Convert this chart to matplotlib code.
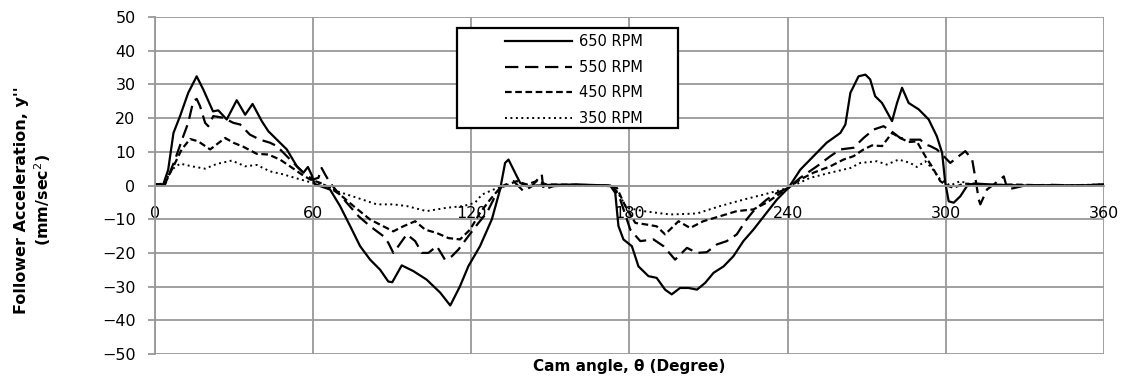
import numpy as np
import matplotlib
matplotlib.use('Agg')
import matplotlib.pyplot as plt
from matplotlib.patches import Rectangle

plt.rcParams['font.family'] = ['DejaVu Sans']

# cam angle (deg) / follower acceleration
x650 = [0, 3, 5, 7, 9.5, 12.6, 15.8, 18.3, 22, 24, 27.2, 31, 34.2, 37, 40.5, 43, 47.4, 50,
        53.8, 56.3, 58, 59.5, 60.5, 62, 66.4, 70.2, 74, 77.8, 81.6, 85.4, 88.5, 90, 93.6, 98,
        103, 108.2, 112, 115.7, 118.9, 123.3, 127.8, 130.9, 132.8, 134.1, 136, 138.5, 141,
        150, 160, 172.7, 174.6, 175.8, 177.7, 180.9, 183.4, 187.2, 190.3, 193.5, 196, 199.2,
        202.4, 205.6, 208.7, 211.9, 215.7, 219.4, 223.2, 227, 232, 235.9, 240.3, 244.8, 249.8,
        254.8, 260, 261.9, 263.8, 266.9, 269.5, 271.3, 273.2, 275.8, 279.6, 281.5, 283.4,
        285.9, 289.7, 293.5, 296.6, 298.6, 299.8, 301.1, 303, 305.5, 308, 310.6, 320, 330,
        340, 350, 360]
y650 = [0.3, 0, 4.7, 15.6, 20.6, 27.5, 32.4, 28.5, 22, 22.3, 19.6, 25.3, 21, 24.2, 19.1,
        16.1, 12.7, 10.7, 5.7, 3.8, 5.5, 3, 0.5, 0, -1.2, -6.1, -12, -18, -22, -25, -28.5,
        -28.7, -23.7, -25.4, -27.9, -31.8, -35.6, -29.9, -23.9, -18, -10, -1.2, 6.7, 7.7,
        4.7, 0.8, -0.2, 0.2, 0.3, 0, -2.2, -12, -16, -18, -24, -26.9, -27.4, -30.9, -32.3,
        -30.4, -30.4, -30.9, -28.9, -25.9, -24, -21, -16.5, -13.1, -8.1, -4.2, -0.7, 4.7,
        8.7, 12.7, 15.6, 18.1, 27.5, 32.4, 32.9, 31.5, 26.5, 24.5, 19.1, 24.5, 29, 24.5,
        22.6, 19.6, 14.6, 9.7, 0.8, -4.7, -5.1, -3.2, -0.2, 0.6, 0.2, 0, 0.1, 0, 0.3]

x550 = [0, 3.8, 7.6, 10.7, 12.6, 14.5, 15.8, 17.1, 19, 20.2, 22.1, 25.9, 29.7, 32.3, 36,
        39.8, 43.6, 46.2, 50, 53.8, 56.9, 60, 62, 63.2, 64.5, 66.4, 69, 72.7, 77.2, 81.6,
        86.6, 88.5, 90.4, 92.3, 95.5, 98.7, 101.2, 103.7, 106.9, 110, 112.6, 115.1, 118.9,
        122.7, 125.9, 129, 131.6, 136, 139.8, 143, 146.7, 147.4, 151.1, 160, 173.9, 176.5,
        180.3, 184.1, 189.1, 192.9, 197.3, 201.8, 205.6, 209.3, 213.1, 216.9, 220.7, 224.5,
        227, 232, 235.9, 240.3, 244.8, 251.1, 256.2, 260, 265, 268.8, 272.6, 276.4, 280.2,
        282.7, 286.5, 290.3, 292.2, 294.1, 296.6, 299.2, 301.7, 304.9, 307.4, 310, 311.2,
        312.5, 313.1, 315.6, 318.2, 322, 323.4, 330, 340, 350, 360]
y550 = [0.3, 0.3, 7.7, 14.6, 18.6, 25, 25.7, 23.5, 18.6, 17.6, 20.6, 20.1, 18.6, 18.1, 15.1,
        13.6, 12.7, 11.7, 8.7, 5.7, 3.3, 1.8, 2.3, 5.2, 3.3, 0.8, -1.7, -5.1, -9.1, -12.1,
        -15, -17, -20, -18, -14.5, -16.5, -20, -20, -18, -22, -21, -19, -15, -11.1, -8.1,
        -3.2, -0.2, 1.3, -1.7, -0.2, 3.3, -1.2, -0.2, 0.2, -0.2, -4.2, -13.1, -16.5, -16,
        -18, -22, -18.5, -20, -19.8, -17.5, -16.5, -14.5, -10, -7.6, -4.2, -2.2, -0.7, 2.3,
        5.7, 8.7, 10.7, 11.2, 14.1, 16.6, 17.6, 15.6, 14.1, 13.6, 13.6, 12.2, 11.7, 10.7,
        8.7, 6.7, 8.7, 10.2, 7.7, 2.3, -4.2, -5.6, -1.2, 0.3, 2.7, -1.2, 0, 0.2, 0, 0.3]

x450 = [0, 3.8, 7, 10.1, 13.3, 16.4, 20.9, 23.4, 26.6, 29.7, 33.5, 38.6, 43, 47.4, 51.2,
        55.6, 58.8, 62.6, 66.4, 70.2, 75.3, 81.6, 86.6, 90.4, 94.2, 98.7, 102.5, 106.9,
        111.3, 115.7, 119.5, 123.3, 127.1, 130.9, 137.2, 141, 144.8, 148.6, 160, 172, 175.2,
        178.4, 182.2, 186.6, 190.3, 193.5, 198.6, 203, 208, 214.4, 220.7, 227, 232, 236.5,
        240.3, 244.8, 249.8, 256.2, 261.2, 265, 268.8, 272, 275.8, 279.6, 282.7, 285.9, 289,
        292.2, 294.7, 297.9, 300.4, 303, 306.8, 315, 325, 340, 360]
y450 = [0.3, 0.6, 5.7, 10.7, 13.8, 13.1, 10.7, 12.2, 14.1, 12.7, 11.5, 9.4, 9.2, 7.7, 5.7,
        3.3, 1.8, 0.8, -0.7, -2.7, -6.1, -10.1, -12.1, -13.6, -12.1, -10.6, -13.1, -14.1,
        -15.6, -16, -13.1, -8.1, -4.2, -0.7, 1.3, 0.3, 1.3, 0.3, 0.2, 0, -0.7, -6.1, -11.1,
        -11.6, -12.1, -14.5, -10.6, -12.6, -10.6, -9.1, -7.6, -7.1, -5.1, -2.7, -0.7, 1.8,
        3.8, 5.7, 7.7, 8.7, 10.7, 11.9, 11.7, 15.6, 14.1, 12.9, 13.1, 8.7, 5.7, 1.3, 0,
        -0.7, 0.6, 0, 0.3, 0, 0]

x350 = [0, 3.2, 6.3, 9.5, 13.9, 19, 23.4, 29.1, 34.2, 38.6, 43.6, 48.7, 53.8, 58.8, 63.9,
        69, 76.5, 84.1, 90.4, 95.5, 103, 110.7, 117, 121.4, 124, 128.4, 132.2, 150, 172.7,
        175.2, 179, 185.3, 195.4, 205.6, 214.4, 223.2, 230.8, 240.3, 248.6, 256.2, 263.8,
        267.6, 273.9, 277.6, 282.1, 286.5, 289, 292.2, 294.7, 297.9, 301.7, 305.5, 309.3,
        320, 340, 360]
y350 = [0.3, 0.3, 4.7, 6.5, 5.7, 5, 6.4, 7.4, 5.7, 6.1, 4.2, 3.3, 2.1, 1, 0.3, -1.7, -3.6,
        -5.6, -5.6, -6.1, -7.6, -6.6, -6.1, -5.1, -2.7, -1.2, -0.2, 0, -0.2, -1.7, -6.6,
        -7.6, -8.6, -8.3, -6.1, -4.2, -2.7, -0.7, 2.3, 3.8, 5.2, 6.7, 7.2, 6.2, 7.7, 6.7,
        5.5, 7.2, 5.2, 1.8, 0, 1.3, 0.3, 0, 0, 0.3]

labels = ['650 RPM', '550 RPM', '450 RPM', '350 RPM']
x_ticks = [0, 60, 120, 180, 240, 300, 360]
y_ticks = [-50, -40, -30, -20, -10, 0, 10, 20, 30, 40, 50]

grey = '#989898'

fig = plt.figure(figsize=(11.25, 3.83), dpi=100)
ax = fig.add_axes([0.1378, 0.0757, 0.8435, 0.8799])

ax.plot(x650, y650, color='black', lw=1.6, label=labels[0])
ax.plot(x550, y550, color='black', lw=1.6, ls=(0, (6, 3)), label=labels[1])
ax.plot(x450, y450, color='black', lw=1.6, ls=(0, (3, 1.6)), label=labels[2])
ax.plot(x350, y350, color='black', lw=1.4, ls=(0, (1, 1.8)), label=labels[3])

ax.set_xlim(0, 360)
ax.set_ylim(-50, 50)
ax.set_xticks(x_ticks)
ax.set_yticks(y_ticks)
ax.grid(True, color=grey, lw=1.3)
ax.set_axisbelow(True)

for s in ['top', 'right']:
    ax.spines[s].set_visible(False)
ax.spines['left'].set_color(grey)
ax.spines['left'].set_linewidth(1.3)
ax.spines['bottom'].set_position(('data', 0))
ax.spines['bottom'].set_color(grey)
ax.spines['bottom'].set_linewidth(1.3)

ax.tick_params(axis='y', length=5, width=1.3, color=grey, pad=9, labelsize=11.5)
ax.tick_params(axis='x', length=0, pad=15, labelsize=11.5)

ax.set_xlabel('Cam angle, θ (Degree)', fontsize=11, fontweight='bold', labelpad=0)
ax.xaxis.set_label_coords(0.5, -0.015)
ax.set_ylabel("Follower Acceleration, y''\n(mm/sec$^{2}$)", fontsize=11.5,
              fontweight='bold', linespacing=1.25)
ax.yaxis.set_label_coords(-0.107, 0.457)

box = Rectangle((0.318, 0.671), 0.233, 0.296, transform=ax.transAxes,
                facecolor='white', edgecolor='black', lw=1.6, zorder=4)
ax.add_patch(box)
leg = ax.legend(loc='upper left', bbox_to_anchor=(0.355, 0.988), frameon=False,
                handlelength=4.6, handletextpad=0.5, labelspacing=0.72, fontsize=10.5)
leg.set_zorder(5)

fig.savefig('out.png', dpi=100)
